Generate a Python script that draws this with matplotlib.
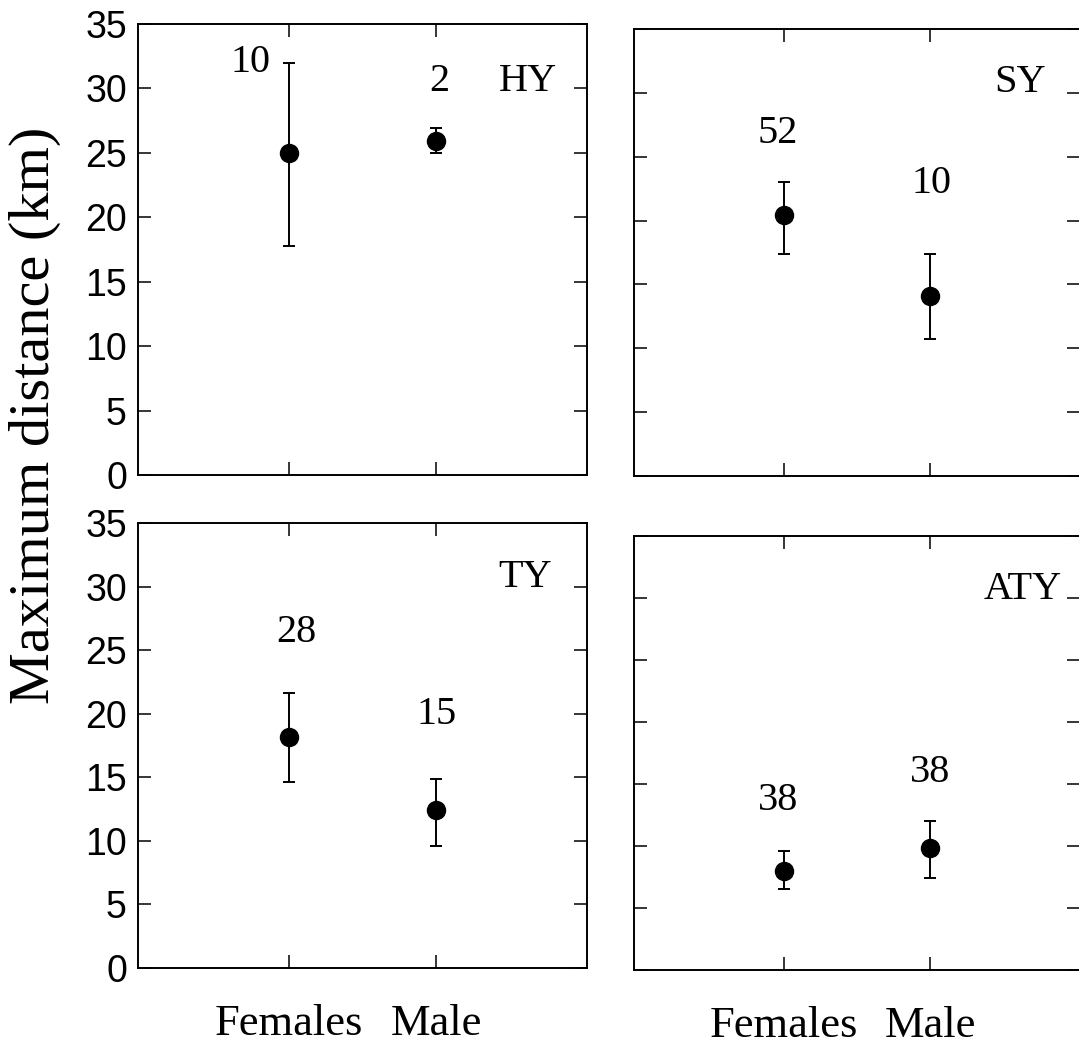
import matplotlib
matplotlib.use("Agg")
import matplotlib.pyplot as plt

# ---- data ----
groups = ["Females", "Male"]
panels = ["HY", "SY", "TY", "ATY"]

hy_mean = [25.0, 25.9]
hy_low = [17.8, 25.0]
hy_high = [32.0, 26.9]
hy_n = [10, 2]

sy_mean = [20.4, 14.1]
sy_low = [17.4, 10.7]
sy_high = [23.0, 17.4]
sy_n = [52, 10]

ty_mean = [18.2, 12.4]
ty_low = [14.6, 9.6]
ty_high = [21.6, 14.9]
ty_n = [28, 15]

aty_mean = [8.0, 9.8]
aty_low = [6.5, 7.4]
aty_high = [9.6, 12.0]
aty_n = [38, 38]

y_ticks = [0, 5, 10, 15, 20, 25, 30, 35]

# ---- layout ----
W, H = 1079, 1051
fig = plt.figure(figsize=(W / 100, H / 100), dpi=100)

def rect(x0, x1, ytop, ybot):
    return [x0 / W, 1 - ybot / H, (x1 - x0) / W, (ybot - ytop) / H]

axes_rects = [rect(138, 587, 24, 475), rect(634, 1080, 29, 476),
              rect(138, 587, 523, 968), rect(634, 1080, 536, 970)]
ylims = [35, 35, 35, 34.4]
# count-label placement: (x offset from point, y position, alignment)
label_pos = [[(-0.12, 32.0, "right"), (0.02, 30.5, "center")],
             [(-0.04, 26.8, "center"), (0.01, 22.9, "center")],
             [(0.05, 26.4, "center"), (0.0, 19.9, "center")],
             [(-0.04, 13.7, "center"), (0.0, 15.9, "center")]]
panel_label_pos = [(1.62, 30.5), (1.61, 30.8), (1.60, 30.7), (1.63, 30.7)]

data = [(hy_mean, hy_low, hy_high, hy_n),
        (sy_mean, sy_low, sy_high, sy_n),
        (ty_mean, ty_low, ty_high, ty_n),
        (aty_mean, aty_low, aty_high, aty_n)]

serif = "Liberation Serif"
sans = "Liberation Sans"

for i, (name, (m, lo, hi, n)) in enumerate(zip(panels, data)):
    ax = fig.add_axes(axes_rects[i])
    xs = list(range(len(groups)))
    yerr = [[mm - l for mm, l in zip(m, lo)], [h - mm for mm, h in zip(m, hi)]]
    ax.errorbar(xs, m, yerr=yerr, fmt="o", color="black", ms=13,
                elinewidth=1.4, capsize=4.5, capthick=1.4, clip_on=False)
    ax.set_xlim(-1.02, 2.02)
    ax.set_ylim(0, ylims[i])
    ax.set_yticks(y_ticks)
    ax.set_xticks(xs)
    for s in ax.spines.values():
        s.set_linewidth(1.4)
    ax.tick_params(direction="in", length=9.5, width=1.1,
                   top=True, right=True, bottom=True, left=True)
    if i % 2 == 0:
        ax.set_yticklabels([str(t) for t in y_ticks], fontfamily=sans, fontsize=27)
        ax.tick_params(axis="y", pad=8)
    else:
        ax.set_yticklabels([])
    if i >= 2:
        ax.set_xticklabels(groups, fontfamily=serif, fontsize=32)
        ax.tick_params(axis="x", pad=26)
    else:
        ax.set_xticklabels([])
    for j, (lx, ly, ha) in enumerate(label_pos[i]):
        ax.text(xs[j] + lx, ly, str(n[j]), ha=ha, va="center",
                fontfamily=serif, fontsize=29)
    px, py = panel_label_pos[i]
    ax.text(px, py, name, ha="center", va="center", fontfamily=serif, fontsize=29)

fig.text(35 / W, 1 - 415 / H, "Maximum distance (km)", rotation=90,
         ha="center", va="center", fontfamily=serif, fontsize=42)

fig.savefig("out.png", dpi=100)
